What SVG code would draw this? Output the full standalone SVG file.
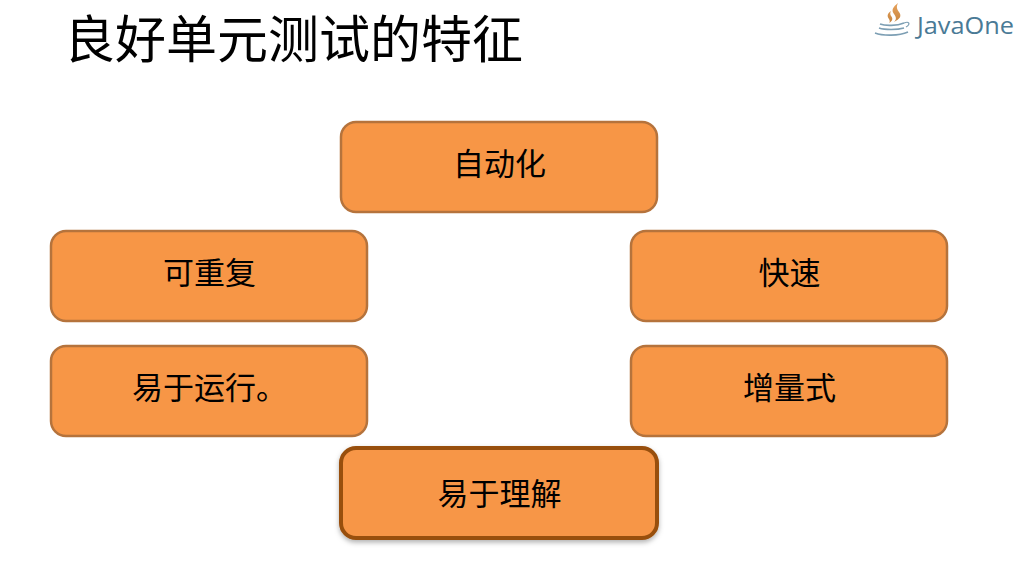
<svg xmlns="http://www.w3.org/2000/svg" width="1024" height="576" viewBox="0 0 1024 576">
<defs>
<style>
text{font-family:"Noto Sans CJK SC","Liberation Sans",sans-serif;fill:#000}
.box{fill:#f79646;stroke:#b5733c;stroke-width:2.5}
.em{stroke:#984f0e;stroke-width:4}
.lbl{font-size:31px;text-anchor:middle}
</style>
<filter id="sh" x="-5%" y="-10%" width="110%" height="125%"><feDropShadow dx="0" dy="2.5" stdDeviation="2.5" flood-color="#000" flood-opacity="0.3"/></filter>
<linearGradient id="st" x1="0" y1="0" x2="0" y2="1"><stop offset="0" stop-color="#e8a35c"/><stop offset="1" stop-color="#c6843f"/></linearGradient>
</defs>
<rect width="1024" height="576" fill="#fff"/>
<text id="title" x="64" y="58" font-size="51">良好单元测试的特征</text>
<g id="logo">
<path d="M898 3c-5 4-7 7-4 11 2 3 3 5 0 8 6-3 8-6 5-10-2-3-3-5-1-9zM891 11c-4 3-4 5-2 8 1 2 1 3 0 4 4-2 4-5 2-7-1-2-1-3 0-5z" fill="url(#st)"/>
<path d="M880 24c5 2 17 2 24-1M879 28c6 2 18 2 25 0M875 33c8 3 24 3 33-1" fill="none" stroke="#7d9fb4" stroke-width="1.6"/>
<path d="M904 23c5-2 7 1 2 4" fill="none" stroke="#7d9fb4" stroke-width="1.2"/>
<text x="917" y="34" font-size="24" textLength="97" lengthAdjust="spacingAndGlyphs" style="font-family:'Open Sans','Liberation Sans',sans-serif;fill:#4a7a96">JavaOne</text>
</g>
<g id="connectors"></g>
<g id="n1"><rect class="box" x="341" y="122" width="316" height="90" rx="15"/><text class="lbl" x="499.5" y="174.500">自动化</text></g>
<g id="n2"><rect class="box" x="51" y="231" width="316" height="90" rx="15"/><text class="lbl" x="209.500" y="283.500">可重复</text></g>
<g id="n3"><rect class="box" x="631" y="231" width="316" height="90" rx="15"/><text class="lbl" x="789.500" y="283.500">快速</text></g>
<g id="n4"><rect class="box" x="51" y="346" width="316" height="90" rx="15"/><text class="lbl" x="132" y="398.500" style="text-anchor:start">易于运行。</text></g>
<g id="n5"><rect class="box" x="631" y="346" width="316" height="90" rx="15"/><text class="lbl" x="789.500" y="398.500">增量式</text></g>
<g id="n6"><rect class="box em" x="341" y="448" width="316" height="90" rx="15" filter="url(#sh)"/><text class="lbl" x="499.500" y="504.500">易于理解</text></g>
</svg>
